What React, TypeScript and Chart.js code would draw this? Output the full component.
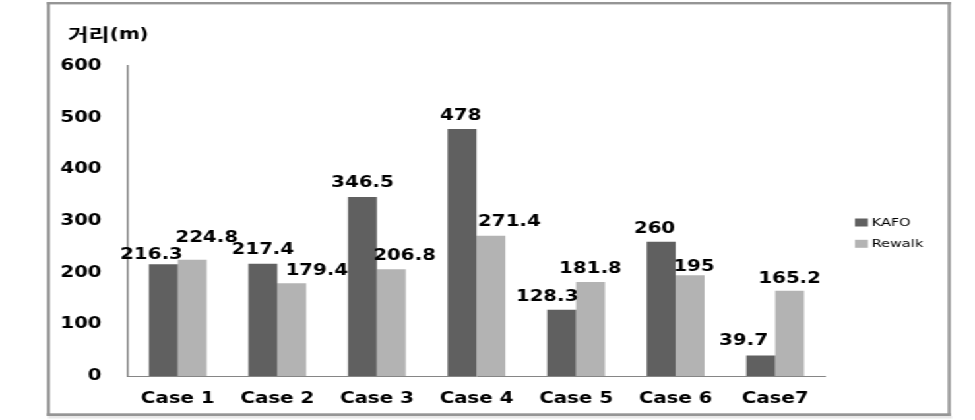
import React, { useEffect, useRef } from 'react';
import { Chart, registerables } from 'chart.js';

Chart.register(...registerables);

// ---- data ----
const categories = ['Case 1', 'Case 2', 'Case 3', 'Case 4', 'Case 5', 'Case 6', 'Case7'];
const seriesNames = ['KAFO', 'Rewalk'];
const kafo = [216.3, 217.4, 346.5, 478, 128.3, 260, 39.7];
const rewalk = [224.8, 179.4, 206.8, 271.4, 181.8, 195, 165.2];
const yMin = 0;
const yMax = 600;
const yStep = 100;
const yTitleMain = '거리';
const yTitleUnit = '(m)';

// ---- style ----
const COLORS = ['#606060', '#b3b3b3'];
const CANVAS_W = 739;
const CANVAS_H = 420;
const STRETCH = 975 / CANVAS_W;
const FONT = '"DejaVu Sans", Verdana, sans-serif';
// per-label nudges (canvas px) mimicking the original label placement
const LABEL_DX = [
  [-9, 0, 0, -1, -11, -5, -13],
  [11, 19, 10, 14, 0, 3, 0],
];
const LABEL_GAP = [
  [5, 10, 10, 9, 9, 9, 10],
  [18, 8, 9, 10, 9, 4, 8],
];

const decorPlugin = {
  id: 'decor',
  beforeDraw(chart: any) {
    const ctx = chart.ctx;
    ctx.save();
    ctx.fillStyle = '#ffffff';
    ctx.fillRect(0, 0, chart.width, chart.height);
    // soft shadow under frame
    ctx.fillStyle = '#e8e8e8';
    ctx.fillRect(36.5, 416, 685, 2.5);
    // frame
    ctx.fillStyle = '#959595';
    ctx.fillRect(35.6, 2, 2.3, 414);
    ctx.fillRect(718.3, 2, 2.3, 414);
    ctx.fillRect(35.6, 2, 685, 2.4);
    ctx.fillRect(35.6, 413.3, 685, 2.7);
    ctx.restore();
  },
  afterDatasetsDraw(chart: any) {
    const ctx = chart.ctx;
    ctx.save();
    ctx.font = `bold 15px ${FONT}`;
    ctx.fillStyle = '#000000';
    ctx.textAlign = 'center';
    ctx.textBaseline = 'alphabetic';
    chart.data.datasets.forEach((ds: any, i: number) => {
      const meta = chart.getDatasetMeta(i);
      meta.data.forEach((bar: any, j: number) => {
        ctx.fillText(String(ds.data[j]), bar.x + LABEL_DX[i][j], bar.y - LABEL_GAP[i][j]);
      });
    });
    ctx.restore();
  },
  afterDraw(chart: any) {
    const ctx = chart.ctx;
    ctx.save();
    // axis title
    ctx.fillStyle = '#000000';
    ctx.textBaseline = 'middle';
    ctx.textAlign = 'left';
    ctx.font = 'bold 17px "Noto Sans CJK KR", "Noto Sans CJK SC", sans-serif';
    const tx = 51.5;
    ctx.fillText(yTitleMain, tx, 34.5);
    const w = ctx.measureText(yTitleMain).width;
    ctx.font = `bold 15px ${FONT}`;
    ctx.fillText(yTitleUnit, tx + w + 0.5, 35);
    // legend
    ctx.font = `11px ${FONT}`;
    chart.data.datasets.forEach((ds: any, i: number) => {
      const cy = 222.5 + i * 21.3;
      ctx.fillStyle = ds.backgroundColor;
      ctx.fillRect(648, cy - 4, 9.8, 8);
      ctx.fillStyle = '#000000';
      ctx.fillText(ds.label, 660.7, cy + 0.5);
    });
    ctx.restore();
  },
};

export default function App() {
  const canvasRef = useRef<HTMLCanvasElement | null>(null);

  useEffect(() => {
    if (!canvasRef.current) return;
    const tickFont = { family: FONT, size: 15, weight: 'bold' as const };
    const chart = new Chart(canvasRef.current, {
      type: 'bar',
      data: {
        labels: categories,
        datasets: [
          { label: seriesNames[0], data: kafo, backgroundColor: COLORS[0], borderWidth: 0 },
          { label: seriesNames[1], data: rewalk, backgroundColor: COLORS[1], borderWidth: 0 },
        ],
      },
      options: {
        responsive: false,
        animation: false,
        events: [],
        devicePixelRatio: 1,
        layout: { padding: { left: 0, right: CANVAS_W - 625.3, top: 66, bottom: 14 } },
        datasets: { bar: { categoryPercentage: 0.58, barPercentage: 1 } },
        plugins: {
          legend: { display: false },
          tooltip: { enabled: false },
          title: { display: false },
        },
        scales: {
          x: {
            grid: { display: false, drawTicks: false },
            border: { display: true, color: '#868686', width: 1 },
            ticks: { color: '#000000', font: tickFont, padding: 14, maxRotation: 0, autoSkip: false },
            afterFit: (s: any) => { s.height = 30; },
          },
          y: {
            min: yMin,
            max: yMax,
            grid: { display: false, drawTicks: false },
            border: { display: true, color: '#868686', width: 1.5 },
            ticks: { stepSize: yStep, color: '#000000', font: tickFont, padding: 20 },
            afterFit: (s: any) => { s.width = 97; },
          },
        },
      },
      plugins: [decorPlugin],
    });
    return () => chart.destroy();
  }, []);

  return (
    <div
      style={{
        position: 'fixed',
        left: 0,
        top: 0,
        width: CANVAS_W,
        height: CANVAS_H,
        transform: `scaleX(${STRETCH})`,
        transformOrigin: '0 0',
        background: '#ffffff',
      }}
    >
      <canvas ref={canvasRef} width={CANVAS_W} height={CANVAS_H} style={{ display: 'block' }} />
    </div>
  );
}
